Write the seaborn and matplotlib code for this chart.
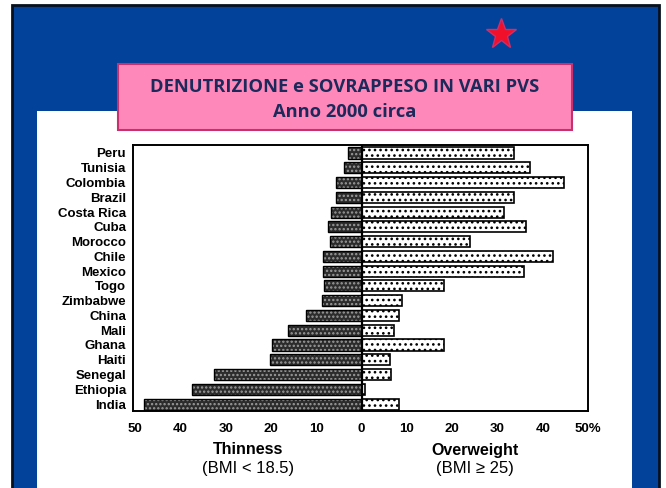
import numpy as np
import pandas as pd
import seaborn as sns
import matplotlib.pyplot as plt
from matplotlib.patches import Rectangle
from matplotlib.lines import Line2D

# ===== data (percent of adults) =====
countries = ["Peru", "Tunisia", "Colombia", "Brazil", "Costa Rica", "Cuba", "Morocco",
             "Chile", "Mexico", "Togo", "Zimbabwe", "China", "Mali", "Ghana", "Haiti",
             "Senegal", "Ethiopia", "India"]
thinness = [3.0, 4.0, 5.7, 5.6, 6.8, 7.5, 7.0, 8.6, 8.5, 8.3, 8.8, 12.3, 16.3, 19.8, 20.3,
            32.7, 37.5, 48.0]
overweight = [33.7, 37.2, 44.8, 33.7, 31.4, 36.3, 23.9, 42.2, 35.9, 18.1, 8.9, 8.2, 7.1,
              18.3, 6.2, 6.4, 0.7, 8.2]
tick_vals = [-50, -40, -30, -20, -10, 0, 10, 20, 30, 40, 50]
tick_text = ["50", "40", "30", "20", "10", "0", "10", "20", "30", "40", "50%"]

df = pd.DataFrame({"Country": countries,
                   "Thinness": -np.array(thinness),
                   "Overweight": overweight})

sns.set_theme(style="white")
plt.rcParams['font.family'] = ['Liberation Sans', 'DejaVu Sans']
plt.rcParams['hatch.linewidth'] = 1.1

W, H = 666, 488
fig = plt.figure(figsize=(W / 100, H / 100), dpi=100)
fig.patch.set_facecolor("white")

def fx(px):
    return px / W

def fy(py):
    return 1 - py / H

# ===== slide frame (behind the chart) =====
fig.add_artist(Rectangle((fx(11.5), fy(495)), fx(659 - 11.5), (495 - 4.5) / H,
                         transform=fig.transFigure, facecolor="#02429A",
                         edgecolor="#08101e", lw=2, zorder=-3))
fig.add_artist(Rectangle((fx(37), fy(495)), fx(632 - 37), (495 - 111) / H,
                         transform=fig.transFigure, facecolor="white", edgecolor="none",
                         zorder=-2))
fig.add_artist(Rectangle((fx(118), fy(130)), fx(572 - 118), (130 - 64) / H,
                         transform=fig.transFigure, facecolor="#FF88BB",
                         edgecolor="#C8306E", lw=1.5, zorder=-1))
fig.add_artist(Line2D([fx(501)], [fy(34)], marker="*", markersize=23, color="#F0102A",
                      mec="#C8306E", mew=1, transform=fig.transFigure))
fig.text(fx(345), fy(87), "DENUTRIZIONE e SOVRAPPESO IN VARI PVS", ha="center", va="center",
         fontsize=13.2, fontweight="bold", color="#1B2A5A", family=["Open Sans", "DejaVu Sans"])
fig.text(fx(345), fy(112), "Anno 2000 circa", ha="center", va="center",
         fontsize=13.2, fontweight="bold", color="#1B2A5A", family=["Open Sans", "DejaVu Sans"])

# ===== chart =====
ax = fig.add_axes([fx(133), fy(411), fx(588 - 133), (411 - 145) / H])
ax.set_zorder(5)
ax.set_facecolor("white")

# thinness: dark bars with light dots, then black outline
sns.barplot(data=df, x="Thinness", y="Country", orient="h", ax=ax, color="#2c2c2c",
            saturation=1, width=0.75, edgecolor="#9c9c9c", linewidth=0, hatch="....")
sns.barplot(data=df, x="Thinness", y="Country", orient="h", ax=ax, color="black",
            saturation=1, width=0.75, fill=False, linewidth=1)
# overweight: white bars with black dots
sns.barplot(data=df, x="Overweight", y="Country", orient="h", ax=ax, color="white",
            saturation=1, width=0.75, edgecolor="black", linewidth=1.2, hatch="...")

ax.axvline(0, color="black", lw=1.6)
ax.set_xlim(-50.5, 50)
ax.set_ylim(len(countries) - 0.53, -0.54)

ax.set_xticks(tick_vals)
ax.set_xticklabels(tick_text, fontsize=9.5, fontweight="bold", color="black")
ax.tick_params(axis="x", direction="out", length=6, width=1.2, color="black", pad=3)
ax.tick_params(axis="y", length=0, pad=5)
for lab in ax.get_yticklabels():
    lab.set_fontsize(9.5)
    lab.set_fontweight("bold")
    lab.set_color("black")
ax.set_xlabel("")
ax.set_ylabel("")
for s in ax.spines.values():
    s.set_color("black")
    s.set_linewidth(1.4)

fig.text(fx(248), fy(450), "Thinness", ha="center", va="center", fontsize=11.5,
         fontweight="bold", color="black")
fig.text(fx(248), fy(469), "(BMI < 18.5)", ha="center", va="center", fontsize=12,
         color="black")
fig.text(fx(475), fy(450), "Overweight", ha="center", va="center", fontsize=11.5,
         fontweight="bold", color="black")
fig.text(fx(475), fy(469), "(BMI \u2265 25)", ha="center", va="center", fontsize=12,
         color="black")

fig.savefig("out.png", dpi=100)
